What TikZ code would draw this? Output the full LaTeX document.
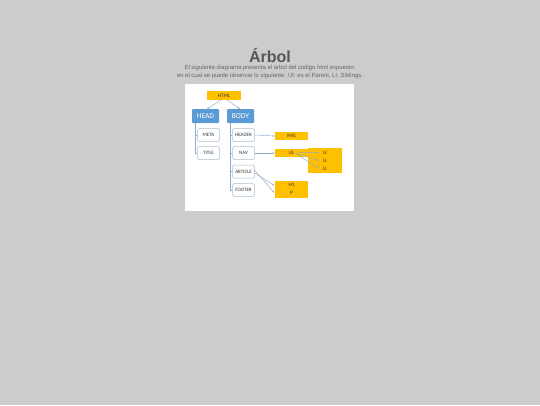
\documentclass[tikz,border=0pt]{standalone}
\usepackage{fontspec}
\setmainfont{Liberation Sans}
\newfontfamily\diagfont{Carlito}
\usetikzlibrary{arrows.meta}
\definecolor{bgc}{HTML}{CCCCCC}
\definecolor{yel}{HTML}{FFC000}
\definecolor{blu}{HTML}{5B9BD5}
\definecolor{bord}{HTML}{A9BED3}
\definecolor{conn}{HTML}{8EAAC8}
\definecolor{ttl}{HTML}{555555}
\definecolor{sub}{HTML}{666666}
\definecolor{txt}{HTML}{333333}
\tikzset{
  yelbox/.style={fill=yel, draw=none, inner sep=0pt, text=txt, font=\diagfont\fontsize{5.2}{6}\selectfont},
  blubox/.style={fill=blu, draw=none, rounded corners=1pt, inner sep=0pt, minimum width=27pt, minimum height=14pt, text=white, font=\diagfont\fontsize{7.5}{8}\selectfont},
  whbox/.style={fill=white, draw=bord, line width=0.5pt, rounded corners=1.5pt, inner sep=0pt, minimum width=22pt, minimum height=13pt, text=txt, font=\diagfont\fontsize{5}{6}\selectfont},
  ytext/.style={inner sep=0pt, text=txt, font=\diagfont\fontsize{5.2}{6}\selectfont},
  conline/.style={draw=conn, line width=0.45pt},
  conarrow/.style={draw=conn, line width=0.45pt, -{Stealth[length=2.2pt,width=1.8pt]}},
  subt/.style={font=\fontsize{5.9}{7}\selectfont, text=sub, inner sep=0pt},
}
\begin{document}
\begin{tikzpicture}[x=1pt,y=-1pt]
\useasboundingbox[fill=bgc] (0,0) rectangle (540,405);
% panel
\fill[white] (185,84) rectangle (354,210.5);
% title
\node[font=\bfseries\fontsize{16}{18}\selectfont, text=ttl, inner sep=0pt, anchor=base] (title) at (270,62.5) {Árbol};
\node[subt, anchor=base] (sub1) at (270,69.3) {El siguiente diagrama presenta el arbol del codigo html expuesto;};
\node[subt, anchor=base] (sub2) at (270,77) {en el cual se puede observar lo siguiente: Ul: es el Parent, Li: Siblings.};
% nodes
\node[yelbox, minimum width=34pt, minimum height=9pt] (html) at (224,95.5) {HTML};
\node[blubox] (head) at (205.5,116) {HEAD};
\node[blubox] (body) at (240.5,116) {BODY};
\node[whbox] (meta) at (208.5,135) {META};
\node[whbox] (titlen) at (208.5,153) {TITLE};
\node[whbox] (header) at (243.5,135) {HEADER};
\node[whbox] (nav) at (243.5,153) {NAV};
\node[whbox] (article) at (243.5,171.5) {ARTICLE};
\node[whbox] (footer) at (243.5,190) {FOOTER};
\node[yelbox, minimum width=33pt, minimum height=8pt] (img) at (291.5,136) {IMG};
\node[yelbox, minimum width=33pt, minimum height=8pt] (ul) at (291.5,153) {UL};
\node[yelbox, minimum width=34pt, minimum height=25pt] (libox) at (325,160.5) {};
\node[ytext] (li1) at (325,152.5) {LI};
\node[ytext] (li2) at (325,160.5) {LI};
\node[ytext] (li3) at (325,168.5) {LI};
\node[yelbox, minimum width=33.5pt, minimum height=16.5pt] (hp) at (291.25,189.25) {};
\node[ytext] (h1) at (291.5,185.3) {H1};
\node[ytext] (p) at (291.5,193.2) {P};
% connectors
\coordinate (hs1) at (221,100);
\coordinate (hs2) at (227,100);
\coordinate (ht1) at (207,109);
\coordinate (ht2) at (240,109);
\draw[conarrow] (hs1) -- (ht1);
\draw[conarrow] (hs2) -- (ht2);
\coordinate (headv) at (195,123);
\coordinate (bodyv) at (230,123);
\draw[conline] (headv) |- (meta.west);
\draw[conline] (headv) |- (titlen.west);
\draw[conline] (bodyv) |- (header.west);
\draw[conline] (bodyv) |- (nav.west);
\draw[conline] (bodyv) |- (article.west);
\draw[conline] (bodyv) |- (footer.west);
\draw[conarrow] (header.east) -- (img.west);
\draw[conarrow] (nav.east) -- (ul.west);
\coordinate (ula) at (299,152.3);
\coordinate (ulb) at (296,153.5);
\draw[conarrow] (ula) -- ([xshift=-6pt]li1.center);
\draw[conarrow] (ulb) -- ([xshift=-6pt]li2.center);
\draw[conarrow] (ulb) -- ([xshift=-6pt]li3.center);
\coordinate (arta) at (254.5,170);
\coordinate (artb) at (254.5,173);
\draw[conarrow] (arta) -- ([yshift=-3.5pt]hp.west);
\draw[conarrow] (artb) -- ([yshift=4pt]hp.west);
\end{tikzpicture}
\end{document}
